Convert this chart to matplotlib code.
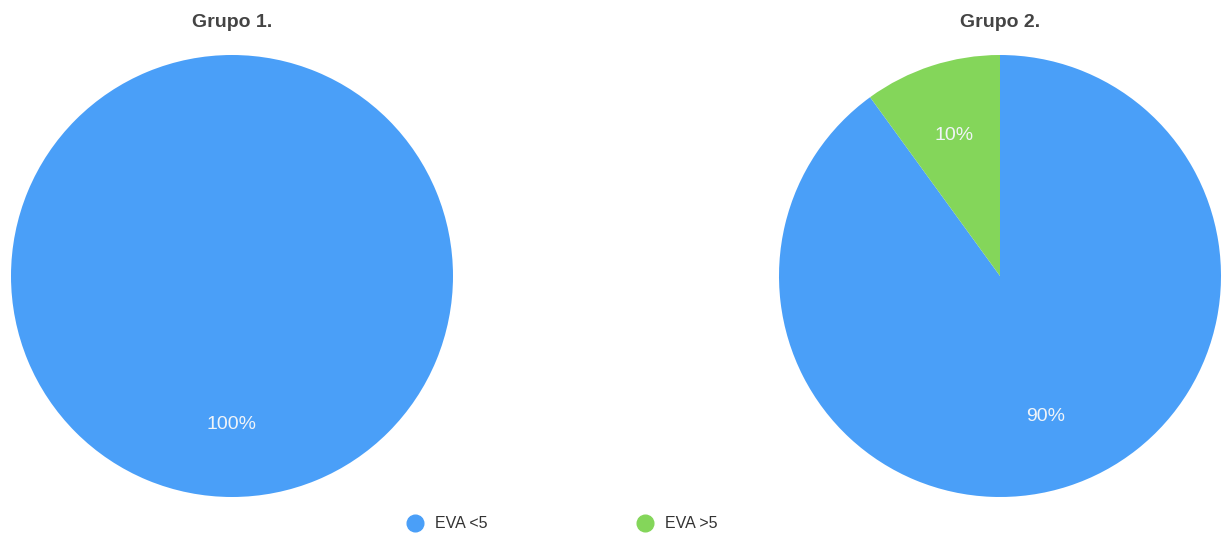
import matplotlib
matplotlib.use('Agg')
import matplotlib.pyplot as plt
from matplotlib.lines import Line2D

plt.rcParams['font.family'] = ['Liberation Sans', 'DejaVu Sans']

categories = ['EVA <5', 'EVA >5']
grupo1 = [100, 0]
grupo2 = [90, 10]
titles = ['Grupo 1.', 'Grupo 2.']
colors = ['#4A9FF8', '#84D65A']

W, H = 1230, 533
fig = plt.figure(figsize=(W / 100, H / 100), dpi=100)


def pct(v):
    return '' if v < 0.5 else '%d%%' % round(v)


# axes positions in pixels: left, top, size
boxes = [(11, 55, 442), (779, 55, 442)]
for (x0, y0, s), vals, title in zip(boxes, [grupo1, grupo2], titles):
    ax = fig.add_axes([x0 / W, 1 - (y0 + s) / H, s / W, s / H])
    wedges, texts, autotexts = ax.pie(vals, colors=colors, startangle=90, counterclock=False,
                                      autopct=pct, pctdistance=0.67, radius=1,
                                      wedgeprops=dict(linewidth=0))
    for t in autotexts:
        t.set_color('#F0F4F8')
        t.set_fontsize(14)
    ax.set_xlim(-1, 1)
    ax.set_ylim(-1, 1)
    ax.set_aspect('equal')
    fig.text((x0 + s / 2) / W, 1 - 22 / H, title, ha='center', va='center',
             fontsize=14, fontweight='bold', color='#444444')

# legend
for xm, label, c in zip([415, 645], categories, colors):
    fig.add_artist(Line2D([xm / W], [1 - 523 / H], marker='o', markersize=12,
                          color=c, linestyle='none', transform=fig.transFigure))
    fig.text((xm + 20) / W, 1 - 523 / H, label, ha='left', va='center',
             fontsize=11.5, color='#333333')

plt.savefig('out.png', dpi=100)
plt.close()
